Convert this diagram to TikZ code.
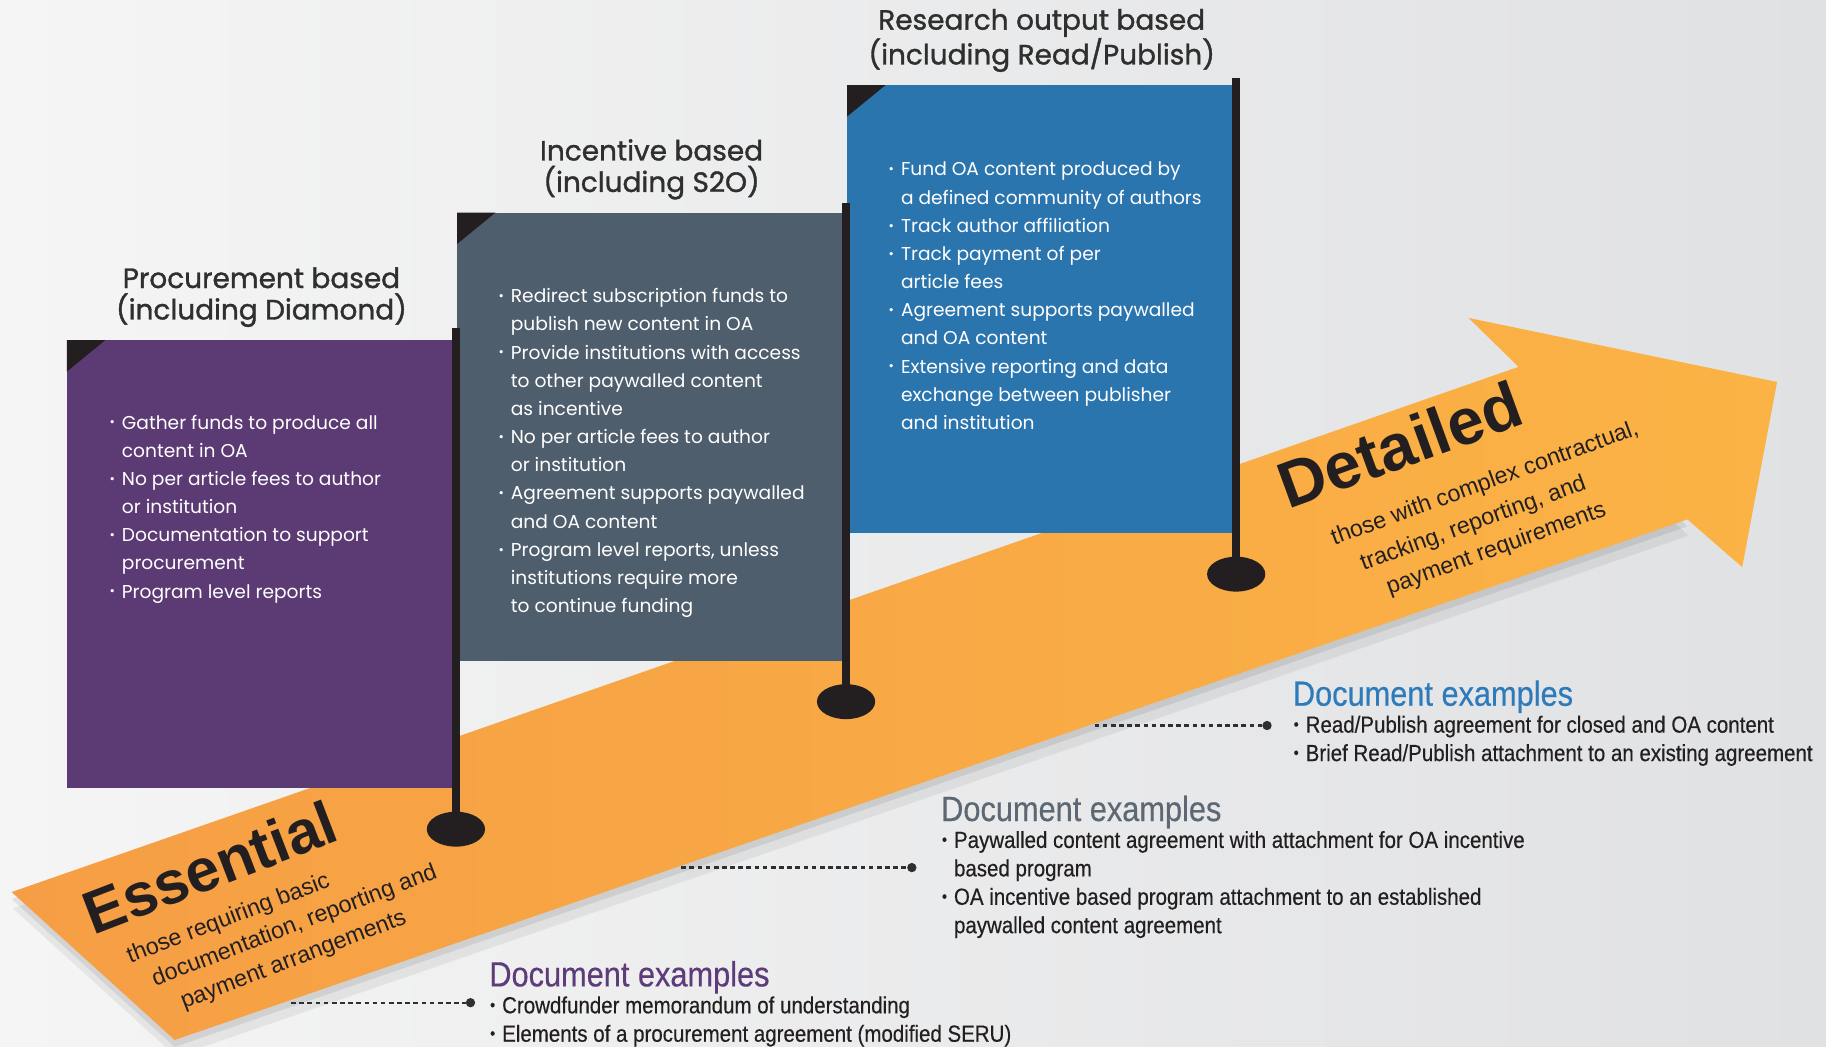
\documentclass[tikz,border=0pt]{standalone}
\usepackage{fontspec}
\setmainfont{Poppins}
\newfontfamily\titlefont[FakeBold=1.2]{Poppins}
\newfontfamily\docfont[FakeStretch=0.88,FakeBold=0.4]{Liberation Sans}
\newfontfamily\tagfont{Liberation Sans}
\usetikzlibrary{positioning,shapes.geometric}

\definecolor{bgl}{HTML}{F5F5F5}
\definecolor{bgr}{HTML}{E0E1E3}
\definecolor{orl}{HTML}{F69E45}
\definecolor{orr}{HTML}{FBB345}
\definecolor{purp}{HTML}{5C3A74}
\definecolor{slate}{HTML}{4F5E6D}
\definecolor{oblue}{HTML}{2B75AF}
\definecolor{pole}{HTML}{231F20}
\definecolor{ink}{HTML}{2F2F2F}
\definecolor{hpurp}{HTML}{5E3B7A}
\definecolor{hgray}{HTML}{5D6874}
\definecolor{hblue}{HTML}{2D7BBA}

% bullet hung in the left margin
\newcommand{\pnt}{\llap{\raisebox{0.12em}{\scalebox{0.7}{•}}\hspace{6pt}}}

\begin{document}
\begin{tikzpicture}[x=1pt, y=-1pt,
    flag/.style={minimum width=334pt, minimum height=385pt, inner sep=0pt, outer sep=0pt},
    corner/.style={fill=pole},
    title/.style={align=center, text=ink, inner sep=1pt, font=\titlefont\fontsize{24}{27}\selectfont},
    btext/.style={align=left, text=white, inner sep=0pt, font=\fontsize{16}{24.2}\selectfont},
    staff/.style={draw=pole, line width=7pt},
    foot/.style={ellipse, fill=pole, minimum width=50pt, minimum height=30pt, inner sep=0pt},
    tagbig/.style={anchor=base west, inner sep=0pt, text=pole, font=\tagfont\bfseries\fontsize{52}{52}\selectfont},
    tagsub/.style={anchor=base west, inner sep=0pt, text=pole, font=\tagfont\fontsize{20}{24}\selectfont},
    dochead/.style={anchor=base west, inner sep=0pt, font=\docfont\fontsize{30}{32}\selectfont},
    doclist/.style={align=left, inner sep=0pt, text=pole, font=\docfont\fontsize{20}{24.4}\selectfont},
    dot/.style={circle, fill=ink, inner sep=0pt, minimum size=8pt},
    leader/.style={draw=ink, line width=2pt, dash pattern=on 4pt off 3pt}]
\useasboundingbox (0,0) rectangle (1568,899);
\shade[left color=bgl, right color=bgr] (0,0) rectangle (1568,899);

% the arrow, with a soft shadow under its shaft
\fill[black, opacity=0.06, shift={(1,14)}] (10,766) -- (1304,315) -- (1449,446) -- (150,893) -- cycle;
\fill[black, opacity=0.08, shift={(0,6)}] (10,766) -- (1304,315) -- (1449,446) -- (150,893) -- cycle;
\shade[left color=orl, right color=orr] (10,766) -- (1304,315) -- (1261,273) -- (1526,328) -- (1496,487) -- (1449,446) -- (150,893) -- cycle;

% flags
\node[flag, fill=purp] (box1) at (224.5,484.5) {};
\node[flag, fill=slate, right=1pt of box1, yshift=109.5pt] (box2) {};
\node[flag, fill=oblue, right=1pt of box2, yshift=109.5pt] (box3) {};
\fill[corner] (box1.north west) -- ++(33,0) -- ++(-33,27) -- cycle;
\fill[corner] (box2.north west) -- ++(33,0) -- ++(-33,27) -- cycle;
\fill[corner] (box3.north west) -- ++(33,0) -- ++(-33,27) -- cycle;

\node[title, above=10pt of box1] (t1) {Procurement based\\(including Diamond)};
\node[title, above=10pt of box2] (t2) {Incentive based\\(including S2O)};
\node[title, above=10pt of box3] (t3) {Research output based\\(including Read/Publish)};

\node[btext, below right=64pt and 47pt of box1.north west] (b1) {\pnt Gather funds to produce all\\content in OA\\
  \pnt No per article fees to author\\or institution\\
  \pnt Documentation to support\\procurement\\
  \pnt Program level reports};
\node[btext, below right=65pt and 46pt of box2.north west] (b2) {\pnt Redirect subscription funds to\\publish new content in OA\\
  \pnt Provide institutions with access\\to other paywalled content\\as incentive\\
  \pnt No per article fees to author\\or institution\\
  \pnt Agreement supports paywalled\\and OA content\\
  \pnt Program level reports, unless\\institutions require more\\to continue funding};
\node[btext, below right=66pt and 46pt of box3.north west] (b3) {\pnt Fund OA content produced by\\a defined community of authors\\
  \pnt Track author affiliation\\
  \pnt Track payment of per\\article fees\\
  \pnt Agreement supports paywalled\\and OA content\\
  \pnt Extensive reporting and data\\exchange between publisher\\and institution};

% poles
\coordinate (top1) at ([yshift=10pt]box1.north east);
\coordinate (top2) at ([yshift=8pt]box2.north east);
\coordinate (top3) at ([yshift=6pt]box3.north east);
\node[foot] (f1) at ([yshift=-35pt]box1.south east) {};
\node[foot] (f2) at ([yshift=-35pt]box2.south east) {};
\node[foot] (f3) at ([yshift=-35pt]box3.south east) {};
\draw[staff] (top1) -- (f1.center);
\draw[staff] (top2) -- (f2.center);
\draw[staff] (top3) -- (f3.center);

% labels on the arrow
\begin{scope}[shift={(80,803)}, rotate=21, transform shape]
  \node[tagbig] (ess) at (0,0) {Essential};
  \node[tagsub] (ess1) at (21,34) {those requiring basic};
  \node[tagsub] (ess2) at (34,60) {documentation, reporting and};
  \node[tagsub] (ess3) at (50,87) {payment arrangements};
\end{scope}
\begin{scope}[shift={(1106,438)}, rotate=20, transform shape]
  \node[tagbig, font=\tagfont\bfseries\fontsize{56}{56}\selectfont] (det) at (0,0) {Detailed};
  \node[tagsub] (det1) at (27,42) {those with complex contractual,};
  \node[tagsub] (det2) at (43,71) {tracking, reporting, and};
  \node[tagsub] (det3) at (57,98) {payment requirements};
\end{scope}

% document examples
\node[dochead, text=hpurp] (h1) at (420,847) {Document examples};
\node[doclist, below right=2pt and 11pt of h1.south west] (l1) {\pnt Crowdfunder memorandum of understanding\\
  \pnt Elements of a procurement agreement (modified SERU)};
\node[dochead, text=hgray] (h2) at (808,705) {Document examples};
\node[doclist, below right=2pt and 11pt of h2.south west] (l2) {\pnt Paywalled content agreement with attachment for OA incentive\\based program\\
  \pnt OA incentive based program attachment to an established\\paywalled content agreement};
\node[dochead, text=hblue] (h3) at (1110,606) {Document examples};
\node[doclist, below right=2pt and 11pt of h3.south west] (l3) {\pnt Read/Publish agreement for closed and OA content\\
  \pnt Brief Read/Publish attachment to an existing agreement};

\coordinate (e1) at (250,861);
\coordinate (e2) at (585,745);
\coordinate (e3) at (940,623);
\node[dot] (p1) at (404,861) {};
\node[dot] (p2) at (783,745) {};
\node[dot] (p3) at (1088,623) {};
\draw[leader] (e1) -- (p1);
\draw[leader] (e2) -- (p2);
\draw[leader] (e3) -- (p3);
\end{tikzpicture}
\end{document}
